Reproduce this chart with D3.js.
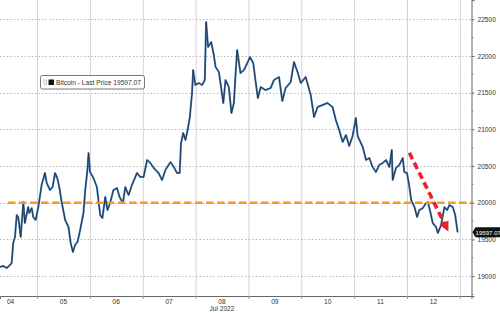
<!DOCTYPE html>
<html>
<head>
<meta charset="utf-8">
<script src="https://cdn.jsdelivr.net/npm/d3@7"></script>
<style>
  body { margin: 0; background: #fff; }
  text { font-family: "Liberation Sans", Arial, sans-serif; }
</style>
</head>
<body>
<div id="chart"></div>
<script>
/* DATA */
// hours since 2022-07-04 00:00 and Bitcoin price
const hours = [7.2, 8.5, 9.5, 10.3, 11.7, 12.5, 13.2, 14, 14.8, 15.5, 16.6, 17.8, 18.5, 20, 20.5, 21.6, 22.3, 23.4,
  24.6, 26.1, 27.6, 28.4, 29.9, 31.1, 32.2, 33.2, 34.2, 35.2, 36.8, 38.3, 39.3, 40.3, 41.3, 42.4, 43.6, 45.1, 45.9, 46.9, 47.4,
  48.1, 49.6, 51.2, 52.7, 53.7, 55, 56, 57.2, 58.7, 60.3, 61.5, 63, 64.1, 65.6, 67.1, 69.4, 70.9,
  72.4, 74, 75.5, 77, 79.2, 80.8, 82.3, 84.6, 86.1, 87.6, 88.8, 89.4, 90.4, 91.4, 92.4, 93.4, 94.4, 94.9, 95.9,
  97.5, 99, 100.2, 100.8, 101.7, 103.1, 104.3, 105.1, 106.6, 108.6, 109.6, 111.1, 112.3, 113.4, 114.2, 114.9, 116.4, 118, 119.5,
  120.7, 122.2, 123.3, 124.3, 125.6, 127.8, 130.1, 131.6, 133.9, 135.4, 136.9, 139.2, 140.7, 142.3,
  143.8, 146, 148.3, 149.8, 151.4, 153.7, 155.9, 158.2, 159.7, 161.2, 162.8, 164.3, 165.8,
  167.3, 168.8, 169.6, 171.9, 173.4, 174.9, 176.4, 177.9, 179.4, 181, 182.5, 184, 185.1, 185.5, 187, 188.5, 190.1,
  190.8, 192, 193.1, 193.9, 195.4, 196.6, 197.6, 199.2, 200.7, 201.5, 202.6, 203.7, 205.2, 206, 207.5, 209, 210.2, 211.3, 212.8, 213.9, 215];
const prices = [19124, 19138, 19124, 19110, 19151, 19178, 19451, 19533, 19832, 19805, 19533, 20010, 19723, 19941, 19859, 19927, 19805, 19764,
  19941, 20241, 20405, 20268, 20173, 20214, 20405, 20337, 20200, 20010, 19764, 19669, 19451, 19328, 19424, 19465, 19629, 19859, 20173, 20446, 20677,
  20418, 20337, 20214, 19832, 19791, 20078, 19900, 19996, 20173, 20200, 20078, 19996, 20214, 20105, 20241, 20405, 20350,
  20350, 20582, 20541, 20473, 20405, 20309, 20446, 20554, 20486, 20405, 20405, 20813, 20950, 20854, 20990, 21168, 21495, 21808, 21604,
  21631, 21604, 21672, 22462, 22121, 22189, 22012, 21849, 21781, 21358, 21672, 21576, 21222, 21358, 21767, 22080, 21767, 21808, 21903,
  21985, 21903, 21644, 21426, 21576, 21535, 21563, 21672, 21713, 21386, 21563, 21644, 21917, 21781,
  21631, 21713, 21467, 21168, 21304, 21331, 21358, 21304, 21127, 20990, 20827, 20922, 20772,
  20909, 21154, 20909, 20759, 20582, 20609, 20486, 20418, 20514, 20541, 20582, 20486, 20718, 20309, 20473, 20514, 20609,
  20418, 20405, 20214, 20037, 19941, 19805, 19900, 19927, 19996, 20010, 19873, 19723, 19669, 19587, 19696, 19941, 19900, 19969, 19941, 19832, 19597.07];

const priceTicks = [19000, 19500, 20000, 20500, 21000, 21500, 22000, 22500];
const dayLabels = ["04", "05", "06", "07", "08", "09", "10", "11", "12"];
const monthLabel = "Jul 2022";
const legendLabel = "Bitcoin - Last Price 19597.07";
const lastPrice = 19597.07;
const supportLevel = 20000;
// annotation arrow: [hour, price]
const arrowStart = [193.1, 20680];
const arrowEnd = [209.6, 19680];

/* LAYOUT */
const width = 500, height = 313;
const plotRight = 471.5, plotBottom = 296;
const t0 = Date.UTC(2022, 6, 4);
const toDate = h => new Date(t0 + h * 3600e3);

const svg = d3.select("#chart").append("svg")
  .attr("width", width)
  .attr("height", height);

const xScale = d3.scaleUtc()
  .domain([toDate(7.2), toDate(221.3)])
  .range([0, plotRight]);

const yScale = d3.scaleLinear()
  .domain([18729, 22762])
  .range([plotBottom, 0]);

// vertical day gridlines
const dayStarts = d3.utcDay.range(toDate(24), toDate(217));
svg.append("g")
  .selectAll("line")
  .data(dayStarts)
  .join("line")
  .attr("x1", d => xScale(d) + 0.5).attr("x2", d => xScale(d) + 0.5)
  .attr("y1", 0).attr("y2", plotBottom)
  .attr("stroke", "#d4d4d4")
  .attr("stroke-width", 1);

// horizontal dotted gridlines
svg.append("g")
  .selectAll("line")
  .data(priceTicks)
  .join("line")
  .attr("x1", 0).attr("x2", plotRight)
  .attr("y1", d => Math.round(yScale(d)) + 0.5).attr("y2", d => Math.round(yScale(d)) + 0.5)
  .attr("stroke", "#b8b8b8")
  .attr("stroke-dasharray", "1.5,2");

// price line: blue body with a dark core
const line = d3.line()
  .x((d, i) => xScale(toDate(hours[i])))
  .y(d => yScale(d));

svg.append("path")
  .datum(prices)
  .attr("fill", "none")
  .attr("stroke", "#4a7fb6")
  .attr("stroke-width", 2)
  .attr("stroke-linejoin", "round")
  .attr("d", line);

svg.append("path")
  .datum(prices)
  .attr("fill", "none")
  .attr("stroke", "#17263b")
  .attr("stroke-width", 0.8)
  .attr("stroke-linejoin", "round")
  .attr("d", line);

// orange support line
svg.append("line")
  .attr("x1", 8).attr("x2", plotRight)
  .attr("y1", yScale(supportLevel)).attr("y2", yScale(supportLevel))
  .attr("stroke", "#f39a2a")
  .attr("stroke-width", 2.6)
  .attr("stroke-dasharray", "7.5,3.5");

// red arrow annotation
const ax1 = xScale(toDate(arrowStart[0])), ay1 = yScale(arrowStart[1]);
const ax2 = xScale(toDate(arrowEnd[0])), ay2 = yScale(arrowEnd[1]);
const len = Math.hypot(ax2 - ax1, ay2 - ay1);
const ux = (ax2 - ax1) / len, uy = (ay2 - ay1) / len;
svg.append("line")
  .attr("x1", ax1).attr("y1", ay1)
  .attr("x2", ax2 - ux * 3).attr("y2", ay2 - uy * 3)
  .attr("stroke", "#e8232d")
  .attr("stroke-width", 3.6)
  .attr("stroke-dasharray", "7,4");
const tipX = ax2 + ux * 6, tipY = ay2 + uy * 6;
svg.append("polygon")
  .attr("points", [
    [tipX, tipY],
    [ax2 - ux * 4 - uy * 5, ay2 - uy * 4 + ux * 5],
    [ax2 - ux * 4 + uy * 5, ay2 - uy * 4 - ux * 5]
  ].map(p => p.join(",")).join(" "))
  .attr("fill", "#e8232d");

// right axis
const yAxis = d3.axisRight(yScale)
  .tickValues(priceTicks)
  .tickSize(3)
  .tickPadding(3)
  .tickFormat(d3.format("d"));
const yAxisGroup = svg.append("g")
  .attr("transform", `translate(${plotRight},0)`)
  .call(yAxis);
yAxisGroup.select(".domain").attr("stroke", "#666");
yAxisGroup.selectAll(".tick line").attr("stroke", "#666");
yAxisGroup.selectAll("text")
  .attr("font-size", 6.6)
  .attr("fill", "#333")
  .attr("font-family", "\"Liberation Sans\", Arial, sans-serif");

// minor ticks on the right axis
svg.append("g")
  .selectAll("line")
  .data(priceTicks.map(d => d - 250).concat([22750]))
  .join("line")
  .attr("x1", plotRight).attr("x2", plotRight + 2)
  .attr("y1", d => yScale(d)).attr("y2", d => yScale(d))
  .attr("stroke", "#888");

// bottom axis
const xAxis = d3.axisBottom(xScale)
  .tickValues(dayStarts)
  .tickSize(3)
  .tickFormat("");
const xAxisGroup = svg.append("g")
  .attr("transform", `translate(0,${plotBottom})`)
  .call(xAxis);
xAxisGroup.select(".domain").attr("stroke", "#666");
xAxisGroup.selectAll(".tick line").attr("stroke", "#999");

svg.append("g")
  .selectAll("text")
  .data(dayLabels)
  .join("text")
  .attr("x", (d, i) => xScale(toDate(i * 24 + 12)))
  .attr("y", 304)
  .attr("text-anchor", "middle")
  .attr("font-size", 6.6)
  .attr("fill", "#333")
  .text(d => d);

svg.append("text")
  .attr("x", xScale(toDate(4 * 24 + 12)))
  .attr("y", 311)
  .attr("text-anchor", "middle")
  .attr("font-size", 6.6)
  .attr("fill", "#333")
  .text(monthLabel);

// last price tag
const ly = yScale(lastPrice);
svg.append("path")
  .attr("d", `M${plotRight + 1},${ly} L${plotRight + 4},${ly - 5} L${width},${ly - 5} L${width},${ly + 5} L${plotRight + 4},${ly + 5} Z`)
  .attr("fill", "#111");
svg.append("text")
  .attr("x", plotRight + 4)
  .attr("y", ly + 2.3)
  .attr("font-size", 6.1)
  .attr("fill", "#fff")
  .text(d3.format(".2f")(lastPrice));

// legend
const legend = svg.append("g").attr("transform", "translate(40.5,75.5)");
legend.append("rect")
  .attr("width", 104).attr("height", 13.5)
  .attr("rx", 2)
  .attr("fill", "#fff")
  .attr("stroke", "#777");
legend.append("rect")
  .attr("x", 3.5).attr("y", 4.5).attr("width", 2.5).attr("height", 4.5)
  .attr("fill", "none").attr("stroke", "#bbb").attr("stroke-width", 0.8);
legend.append("rect")
  .attr("x", 8).attr("y", 4).attr("width", 5.5).attr("height", 5.5)
  .attr("fill", "#111");
legend.append("text")
  .attr("x", 15.5).attr("y", 9.6)
  .attr("font-size", 7.2)
  .attr("fill", "#333")
  .attr("textLength", 85)
  .attr("lengthAdjust", "spacingAndGlyphs")
  .text(legendLabel);
</script>
</body>
</html>
